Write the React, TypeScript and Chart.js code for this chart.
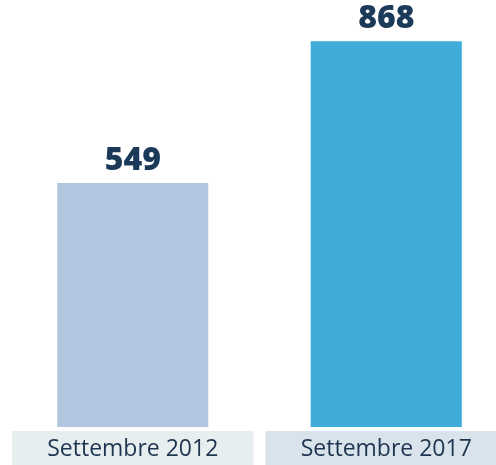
import React, { useEffect, useRef } from "react";
import { Chart, registerables } from "chart.js";

Chart.register(...registerables);

const categories = ["Settembre 2012", "Settembre 2017"];
const values = [549, 868];
const barColors = ["#b3c6df", "#3eabd9"];
const boxColors = ["#e6eef0", "#d9e3ec"];

const labelsPlugin = {
  id: "customLabels",
  afterDraw(chart: any) {
    const ctx = chart.ctx;
    const xScale = chart.scales.x;
    const area = chart.chartArea;
    const meta = chart.getDatasetMeta(0);
    const catW = (area.right - area.left) / categories.length;
    ctx.save();
    // value labels
    ctx.font = "800 32px 'Open Sans', sans-serif";
    ctx.fillStyle = "#1b3a5a";
    ctx.textAlign = "center";
    ctx.textBaseline = "bottom";
    meta.data.forEach((bar: any, i: number) => {
      ctx.fillText(String(values[i]), bar.x, bar.y - 6);
    });
    // category boxes
    categories.forEach((c, i) => {
      const cx = xScale.getPixelForValue(i);
      const w = catW - 12;
      ctx.fillStyle = boxColors[i];
      ctx.fillRect(cx - w / 2, area.bottom + 4, w, chart.height - area.bottom - 4);
      ctx.fillStyle = "#1e3550";
      ctx.font = "23px 'Open Sans', sans-serif";
      ctx.textBaseline = "middle";
      ctx.fillText(c, cx, area.bottom + 22);
    });
    ctx.restore();
  },
};

export default function App() {
  const ref = useRef<HTMLCanvasElement>(null);
  useEffect(() => {
    if (!ref.current) return;
    const chart = new Chart(ref.current, {
      type: "bar",
      data: {
        labels: categories,
        datasets: [
          {
            data: values,
            backgroundColor: barColors,
            borderWidth: 0,
            categoryPercentage: 1,
            barPercentage: 0.596,
          },
        ],
      },
      options: {
        responsive: false,
        animation: false,
        layout: { padding: { left: 6, right: 5, top: 0, bottom: 38 } },
        plugins: { legend: { display: false }, tooltip: { enabled: false } },
        scales: {
          x: { display: false },
          y: { display: false, min: 0, max: 961 },
        },
      },
      plugins: [labelsPlugin],
    });
    return () => chart.destroy();
  }, []);
  return (
    <div
      style={{
        position: "fixed",
        left: 0,
        top: 0,
        width: 496,
        height: 465,
        overflow: "hidden",
        background: "#fff",
      }}
    >
      <canvas ref={ref} width={518} height={465} style={{ display: "block" }} />
    </div>
  );
}
